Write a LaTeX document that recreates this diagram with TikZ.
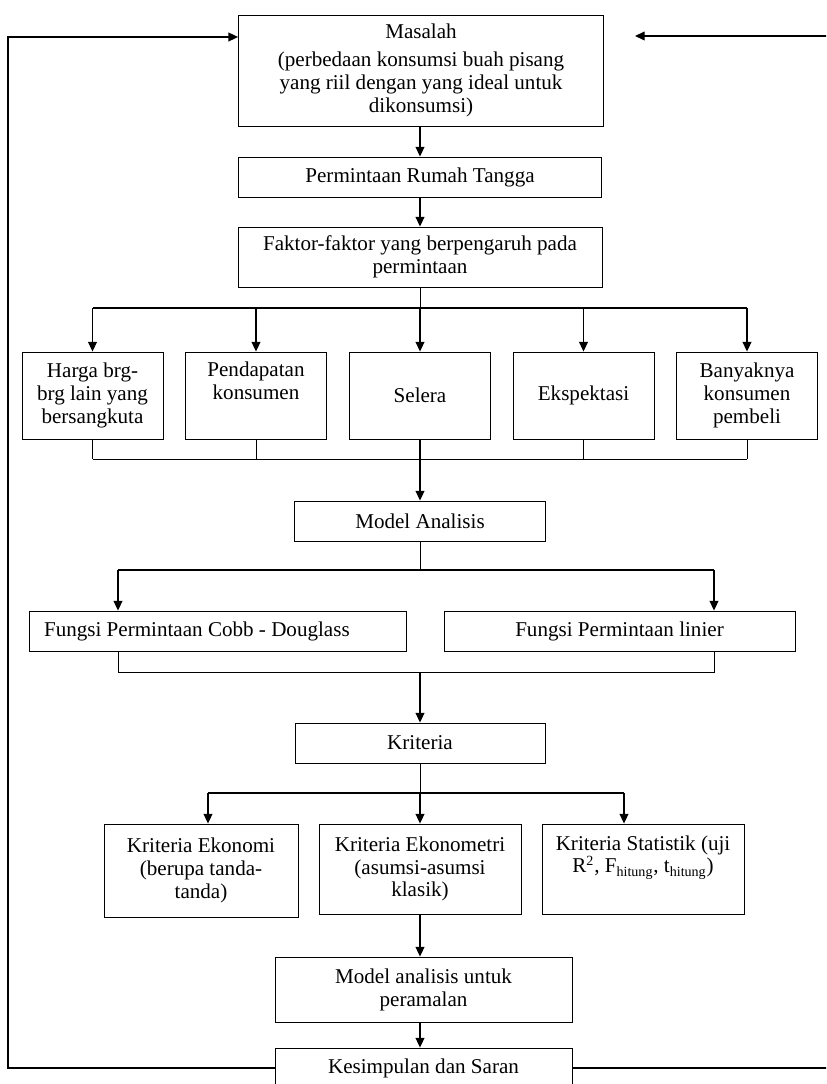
\documentclass[tikz,border=0pt]{standalone}
\usepackage{fontspec}
\setmainfont{Liberation Serif}
\usetikzlibrary{arrows.meta,positioning,calc}

\begin{document}
\begin{tikzpicture}[
    x=0.02cm, y=-0.02cm,
    >={Triangle[length=5.5pt,width=5pt]},
    font=\fontsize{12}{13}\selectfont,
    every node/.style={align=center},
    flowbox/.style={draw, line width=0.5pt, inner sep=2pt},
    factorbox/.style={flowbox, minimum width=2.82cm, minimum height=1.74cm},
    critbox/.style={flowbox, minimum width=4.04cm, minimum height=1.8cm},
    flowarrow/.style={->, line width=0.75pt},
    joinline/.style={line width=0.45pt}
]

% -------------------------------------------------
% PAGE AREA
% -------------------------------------------------
\useasboundingbox (0,0) rectangle (826,1084);
\clip (0,0) rectangle (826,1084);

% -------------------------------------------------
% MAIN COLUMN
% -------------------------------------------------
\node[flowbox, minimum width=7.3cm, minimum height=2.22cm] (masalah) at (421,70.5)
    {Masalah\\[3pt](perbedaan konsumsi buah pisang\\yang riil dengan yang ideal untuk\\dikonsumsi)};
\node[flowbox, minimum width=7.26cm, minimum height=0.8cm] (rumah) at (420,177) {Permintaan Rumah Tangga};
\node[flowbox, minimum width=7.28cm, minimum height=1.2cm] (faktor) at (420,257)
    {Faktor-faktor yang berpengaruh pada\\permintaan};

\draw[flowarrow] (rumah.north |- masalah.south) -- (rumah.north);
\draw[flowarrow] (rumah.south) -- (faktor.north);

% -------------------------------------------------
% FACTORS
% -------------------------------------------------
\node[factorbox] (harga) at (92.5,395.5) {Harga brg-\\brg lain yang\\bersangkuta};
\node[factorbox] (pendapatan) at (256,395.5) {Pendapatan\\konsumen\\\strut};
\node[factorbox] (selera) at (420,395.5) {Selera};
\node[factorbox] (ekspektasi) at (583.5,395.5) {Ekspektasi};
\node[factorbox] (banyak) at (747,395.5) {Banyaknya\\konsumen\\pembeli};

% top bus
\coordinate (busA) at (0,308);
\draw[joinline] (faktor.south) -- (faktor.south |- busA);
\draw[flowarrow,-] (busA -| harga) -- (busA -| banyak);
\foreach \n in {harga,pendapatan,selera,ekspektasi,banyak}
    \draw[flowarrow] (busA -| \n) -- (\n.north);

% bottom bus
\coordinate (busB) at (0,459);
\foreach \n in {harga,pendapatan,ekspektasi,banyak}
    \draw[joinline] (\n.south) -- (\n.south |- busB);
\draw[joinline] (busB -| harga) -- (busB -| banyak);

% -------------------------------------------------
% MODEL
% -------------------------------------------------
\node[flowbox, minimum width=5.02cm, minimum height=0.8cm] (model) at (420,521) {Model Analisis};
\draw[flowarrow] (selera.south) -- (model.north);

\node[flowbox, minimum height=0.8cm, text width=6.94cm, align=flush left, inner xsep=0.3cm] (cobb) at (217.5,631)
    {Fungsi Permintaan Cobb - Douglass};
\node[flowbox, minimum width=7.02cm, minimum height=0.8cm] (linier) at (619.5,631) {Fungsi Permintaan linier};

\coordinate (busC) at (0,570);
\coordinate (cobbIn) at (118,570);
\coordinate (linIn) at (714,570);
\draw[joinline] (model.south) -- (model.south |- busC);
\draw[flowarrow,-] (cobbIn) -- (linIn);
\draw[flowarrow] (cobbIn) -- (cobbIn |- cobb.north);
\draw[flowarrow] (linIn) -- (linIn |- linier.north);

\coordinate (busD) at (0,672);
\draw[joinline] (cobbIn |- cobb.south) -- (cobbIn |- busD) -- (linIn |- busD) -- (linIn |- linier.south);

% -------------------------------------------------
% CRITERIA
% -------------------------------------------------
\node[flowbox, minimum width=5.0cm, minimum height=0.8cm] (kriteria) at (420,743) {Kriteria};
\draw[flowarrow] (kriteria.north |- busD) -- (kriteria.north);

\node[critbox, minimum width=3.88cm, minimum height=1.86cm] (ekonomi) at (201,870.5)
    {Kriteria Ekonomi\\(berupa tanda-\\tanda)};
\node[critbox] (ekonometri) at (420,869) {Kriteria Ekonometri\\(asumsi-asumsi\\klasik)};
\node[critbox] (statistik) at (643,869)
    {Kriteria Statistik (uji\\R\textsuperscript{2}, F\textsubscript{hitung}, t\textsubscript{hitung})\\\strut};

\coordinate (busE) at (0,793);
\coordinate (ekoIn) at (208,793);
\coordinate (statIn) at (624,793);
\draw[joinline] (kriteria.south) -- (kriteria.south |- busE);
\draw[flowarrow,-] (ekoIn) -- (statIn);
\draw[flowarrow] (ekoIn) -- (ekoIn |- ekonomi.north);
\draw[flowarrow] (busE -| ekonometri) -- (ekonometri.north);
\draw[flowarrow] (statIn) -- (statIn |- statistik.north);

% -------------------------------------------------
% FORECAST AND CONCLUSION
% -------------------------------------------------
\node[flowbox, minimum width=5.94cm, minimum height=1.3cm] (ramal) at (423.5,989.5) {Model analisis untuk\\peramalan};
\node[flowbox, minimum width=5.94cm, minimum height=0.8cm] (simpul) at (423.5,1068) {Kesimpulan dan Saran};

\draw[flowarrow] (ekonometri.south) -- (ekonometri.south |- ramal.north);
\draw[flowarrow] (ekonometri.south |- ramal.south) -- (ekonometri.south |- simpul.north);

% feedback loop
\coordinate (loopL) at (8,37);
\coordinate (loopR) at (850,36);
\coordinate (tipR) at (635,36);
\draw[flowarrow] (simpul.west) -| (loopL) -- (loopL -| masalah.west);
\draw[flowarrow] (simpul.east) -| (loopR) -- (tipR);

\end{tikzpicture}
\end{document}
